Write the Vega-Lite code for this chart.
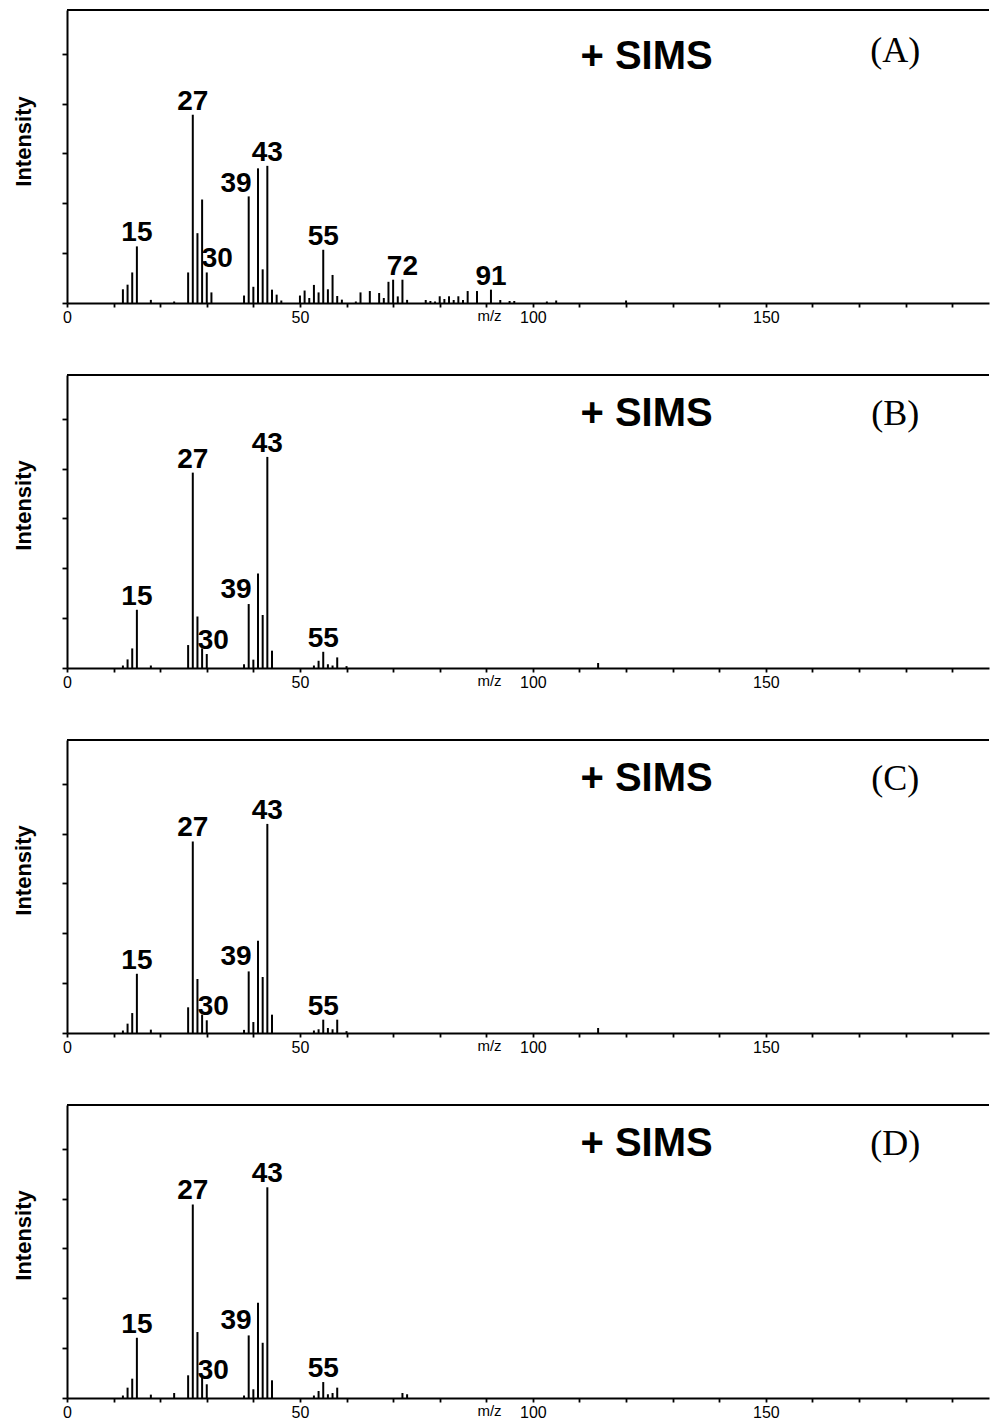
{
  "$schema": "https://vega.github.io/schema/vega-lite/v6.json",
  "autosize": {"type": "pad"},
  "padding": {"left": 12, "top": 9, "right": 0, "bottom": 2},
  "background": "white",
  "config": {
    "view": {"stroke": null},
    "axis": {"grid": false, "domainColor": "black", "domainWidth": 2, "tickColor": "black", "tickWidth": 1.8, "tickRound": true, "labelColor": "black", "titleColor": "black", "labelFont": "Liberation Sans", "titleFont": "Liberation Sans"}
  },
  "datasets": {
    "A": [
      {"mz":12,"i":1.1},{"mz":13,"i":1.47},{"mz":14,"i":2.45},{"mz":15,"i":4.54,"lab":"15"},{"mz":18,"i":0.25},{"mz":23,"i":0.12},
      {"mz":26,"i":2.45},{"mz":27,"i":15.1,"lab":"27"},{"mz":28,"i":5.6},{"mz":29,"i":8.3},{"mz":30,"i":2.45,"lab":"30"},{"mz":31,"i":0.85},
      {"mz":38,"i":0.6},{"mz":39,"i":8.55,"lab":"39"},{"mz":40,"i":1.3},{"mz":41,"i":10.8},{"mz":42,"i":2.7},{"mz":43,"i":11.0,"lab":"43"},{"mz":44,"i":1.07},{"mz":45,"i":0.67},{"mz":46,"i":0.2},
      {"mz":50,"i":0.6},{"mz":51,"i":1.0},{"mz":52,"i":0.4},{"mz":53,"i":1.45},{"mz":54,"i":0.85},{"mz":55,"i":4.27,"lab":"55"},{"mz":56,"i":1.1},{"mz":57,"i":2.25},{"mz":58,"i":0.56},{"mz":59,"i":0.27},
      {"mz":62,"i":0.12},{"mz":63,"i":0.85},{"mz":65,"i":0.96},{"mz":67,"i":0.8},{"mz":68,"i":0.4},{"mz":69,"i":1.7},{"mz":70,"i":1.87},{"mz":71,"i":0.53},{"mz":72,"i":1.87,"lab":"72"},{"mz":73,"i":0.25},
      {"mz":77,"i":0.24},{"mz":78,"i":0.16},{"mz":79,"i":0.12},{"mz":80,"i":0.54},{"mz":81,"i":0.32},{"mz":82,"i":0.54},{"mz":83,"i":0.24},{"mz":84,"i":0.54},{"mz":85,"i":0.24},{"mz":86,"i":0.96},{"mz":88,"i":0.96},{"mz":91,"i":1.07,"lab":"91"},{"mz":93,"i":0.24},{"mz":95,"i":0.16},{"mz":96,"i":0.16},{"mz":103,"i":0.12},{"mz":105,"i":0.2},{"mz":120,"i":0.2}
    ],
    "B": [
      {"mz":12,"i":0.2},{"mz":13,"i":0.69},{"mz":14,"i":1.57},{"mz":15,"i":4.67,"lab":"15"},{"mz":18,"i":0.2},
      {"mz":26,"i":1.84},{"mz":27,"i":15.67,"lab":"27"},{"mz":28,"i":4.13},{"mz":29,"i":1.57},{"mz":30,"i":1.12,"lab":"30"},
      {"mz":38,"i":0.3},{"mz":39,"i":5.13,"lab":"39"},{"mz":40,"i":0.67},{"mz":41,"i":7.58},{"mz":42,"i":4.25},{"mz":43,"i":16.93,"lab":"43"},{"mz":44,"i":1.39},
      {"mz":53,"i":0.2},{"mz":54,"i":0.58},{"mz":55,"i":1.3,"lab":"55"},{"mz":56,"i":0.3},{"mz":57,"i":0.2},{"mz":58,"i":0.85},{"mz":60,"i":0.15},{"mz":114,"i":0.4}
    ],
    "C": [
      {"mz":12,"i":0.2},{"mz":13,"i":0.75},{"mz":14,"i":1.6},{"mz":15,"i":4.75,"lab":"15"},{"mz":18,"i":0.27},
      {"mz":26,"i":2.06},{"mz":27,"i":15.36,"lab":"27"},{"mz":28,"i":4.33},{"mz":29,"i":1.47},{"mz":30,"i":1.02,"lab":"30"},
      {"mz":38,"i":0.25},{"mz":39,"i":4.94,"lab":"39"},{"mz":40,"i":0.88},{"mz":41,"i":7.4},{"mz":42,"i":4.49},{"mz":43,"i":16.77,"lab":"43"},{"mz":44,"i":1.47},
      {"mz":53,"i":0.2},{"mz":54,"i":0.3},{"mz":55,"i":1.07,"lab":"55"},{"mz":56,"i":0.4},{"mz":57,"i":0.3},{"mz":58,"i":1.07},{"mz":60,"i":0.15},{"mz":114,"i":0.4}
    ],
    "D": [
      {"mz":12,"i":0.2},{"mz":13,"i":0.83},{"mz":14,"i":1.55},{"mz":15,"i":4.83,"lab":"15"},{"mz":18,"i":0.27},{"mz":23,"i":0.4},
      {"mz":26,"i":1.82},{"mz":27,"i":15.52,"lab":"27"},{"mz":28,"i":5.29},{"mz":29,"i":1.63},{"mz":30,"i":1.1,"lab":"30"},
      {"mz":38,"i":0.2},{"mz":39,"i":5.02,"lab":"39"},{"mz":40,"i":0.7},{"mz":41,"i":7.64},{"mz":42,"i":4.43},{"mz":43,"i":16.9,"lab":"43"},{"mz":44,"i":1.42},
      {"mz":53,"i":0.2},{"mz":54,"i":0.56},{"mz":55,"i":1.28,"lab":"55"},{"mz":56,"i":0.3},{"mz":57,"i":0.4},{"mz":58,"i":0.83},{"mz":72,"i":0.4},{"mz":73,"i":0.3}
    ]
  },
  "spacing": 72,
  "bounds": "flush",
  "vconcat": [
    {
      "width": 922, "height": 293,
      "data": {"name": "A"},
      "layer": [
        {"mark": {"type": "rule", "color": "black", "strokeWidth": 1.5}, "encoding": {"y": {"datum": 23.5, "type": "quantitative"}}},
        {"mark": {"type": "rule", "color": "black", "strokeWidth": 2},
         "encoding": {
           "x": {"field": "mz", "type": "quantitative", "scale": {"domain": [0, 197.9], "nice": false, "zero": false},
                 "axis": {"values": [0,10,20,30,40,50,60,70,80,90,100,110,120,130,140,150,160,170,180,190], "labelExpr": "datum.value % 50 === 0 ? datum.label : ''", "labelFlush": false, "labelFontSize": 16, "tickSize": 4, "labelPadding": 2, "title": "m/z", "titleX": 422, "titleY": 17, "titleBaseline": "alphabetic", "titleAlign": "center", "titleFontWeight": "normal", "titleFontSize": 15}},
           "y": {"field": "i", "type": "quantitative", "scale": {"domain": [0, 23.5], "nice": false},
                 "axis": {"values": [0,1,2,3,4,5,6,7,8,9,10,11,12,13,14,15,16,17,18,19,20,21,22,23], "labels": false, "tickSize": 5, "title": "Intensity", "titleX": -43.5, "titleY": 131, "titleAngle": 270, "titleAlign": "center", "titleBaseline": "middle", "titleFontSize": 22, "titleFontWeight": "bold"}},
           "y2": {"datum": 0}
         }},
        {"transform": [{"filter": "datum.lab && datum.lab !== '30' && datum.lab !== '39'"}],
         "mark": {"type": "text", "font": "Liberation Sans", "fontWeight": "bold", "fontSize": 28, "baseline": "alphabetic", "align": "center", "dy": -5, "color": "black"},
         "encoding": {"x": {"field": "mz", "type": "quantitative"}, "y": {"field": "i", "type": "quantitative"}, "text": {"field": "lab"}}},
        {"transform": [{"filter": "datum.lab === '30'"}],
         "mark": {"type": "text", "font": "Liberation Sans", "fontWeight": "bold", "fontSize": 28, "baseline": "alphabetic", "align": "left", "dx": -5, "dy": -5, "color": "black"},
         "encoding": {"x": {"field": "mz", "type": "quantitative"}, "y": {"field": "i", "type": "quantitative"}, "text": {"field": "lab"}}},
        {"transform": [{"filter": "datum.lab === '39'"}],
         "mark": {"type": "text", "font": "Liberation Sans", "fontWeight": "bold", "fontSize": 28, "baseline": "alphabetic", "align": "right", "dx": 3, "dy": -4, "color": "black"},
         "encoding": {"x": {"field": "mz", "type": "quantitative"}, "y": {"field": "i", "type": "quantitative"}, "text": {"field": "lab"}}},
        {"data": {"values": [{"t": "+ SIMS"}]},
         "mark": {"type": "text", "font": "Liberation Sans", "fontWeight": "bold", "fontSize": 40, "baseline": "alphabetic", "align": "center", "color": "black"},
         "encoding": {"x": {"datum": 124.4, "type": "quantitative"}, "y": {"datum": 18.8, "type": "quantitative"}, "text": {"field": "t"}}},
        {"data": {"values": [{"t": "(A)"}]},
         "mark": {"type": "text", "font": "Liberation Serif", "fontSize": 36, "baseline": "alphabetic", "align": "center", "color": "black"},
         "encoding": {"x": {"datum": 177.8, "type": "quantitative"}, "y": {"datum": 19.3, "type": "quantitative"}, "text": {"field": "t"}}}
      ]
    },
    {
      "width": 922, "height": 293,
      "data": {"name": "B"},
      "layer": [
        {"mark": {"type": "rule", "color": "black", "strokeWidth": 1.5}, "encoding": {"y": {"datum": 23.5, "type": "quantitative"}}},
        {"mark": {"type": "rule", "color": "black", "strokeWidth": 2},
         "encoding": {
           "x": {"field": "mz", "type": "quantitative", "scale": {"domain": [0, 197.9], "nice": false, "zero": false},
                 "axis": {"values": [0,10,20,30,40,50,60,70,80,90,100,110,120,130,140,150,160,170,180,190], "labelExpr": "datum.value % 50 === 0 ? datum.label : ''", "labelFlush": false, "labelFontSize": 16, "tickSize": 4, "labelPadding": 2, "title": "m/z", "titleX": 422, "titleY": 17, "titleBaseline": "alphabetic", "titleAlign": "center", "titleFontWeight": "normal", "titleFontSize": 15}},
           "y": {"field": "i", "type": "quantitative", "scale": {"domain": [0, 23.5], "nice": false},
                 "axis": {"values": [0,1,2,3,4,5,6,7,8,9,10,11,12,13,14,15,16,17,18,19,20,21,22,23], "labels": false, "tickSize": 5, "title": "Intensity", "titleX": -43.5, "titleY": 130, "titleAngle": 270, "titleAlign": "center", "titleBaseline": "middle", "titleFontSize": 22, "titleFontWeight": "bold"}},
           "y2": {"datum": 0}
         }},
        {"transform": [{"filter": "datum.lab && datum.lab !== '30' && datum.lab !== '39'"}],
         "mark": {"type": "text", "font": "Liberation Sans", "fontWeight": "bold", "fontSize": 28, "baseline": "alphabetic", "align": "center", "dy": -5, "color": "black"},
         "encoding": {"x": {"field": "mz", "type": "quantitative"}, "y": {"field": "i", "type": "quantitative"}, "text": {"field": "lab"}}},
        {"transform": [{"filter": "datum.lab === '30'"}],
         "mark": {"type": "text", "font": "Liberation Sans", "fontWeight": "bold", "fontSize": 28, "baseline": "alphabetic", "align": "left", "dx": -9, "dy": -5, "color": "black"},
         "encoding": {"x": {"field": "mz", "type": "quantitative"}, "y": {"field": "i", "type": "quantitative"}, "text": {"field": "lab"}}},
        {"transform": [{"filter": "datum.lab === '39'"}],
         "mark": {"type": "text", "font": "Liberation Sans", "fontWeight": "bold", "fontSize": 28, "baseline": "alphabetic", "align": "right", "dx": 3, "dy": -6, "color": "black"},
         "encoding": {"x": {"field": "mz", "type": "quantitative"}, "y": {"field": "i", "type": "quantitative"}, "text": {"field": "lab"}}},
        {"data": {"values": [{"t": "+ SIMS"}]},
         "mark": {"type": "text", "font": "Liberation Sans", "fontWeight": "bold", "fontSize": 40, "baseline": "alphabetic", "align": "center", "color": "black"},
         "encoding": {"x": {"datum": 124.4, "type": "quantitative"}, "y": {"datum": 19.4, "type": "quantitative"}, "text": {"field": "t"}}},
        {"data": {"values": [{"t": "(B)"}]},
         "mark": {"type": "text", "font": "Liberation Serif", "fontSize": 36, "baseline": "alphabetic", "align": "center", "color": "black"},
         "encoding": {"x": {"datum": 177.8, "type": "quantitative"}, "y": {"datum": 19.5, "type": "quantitative"}, "text": {"field": "t"}}}
      ]
    },
    {
      "width": 922, "height": 293,
      "data": {"name": "C"},
      "layer": [
        {"mark": {"type": "rule", "color": "black", "strokeWidth": 1.5}, "encoding": {"y": {"datum": 23.5, "type": "quantitative"}}},
        {"mark": {"type": "rule", "color": "black", "strokeWidth": 2},
         "encoding": {
           "x": {"field": "mz", "type": "quantitative", "scale": {"domain": [0, 197.9], "nice": false, "zero": false},
                 "axis": {"values": [0,10,20,30,40,50,60,70,80,90,100,110,120,130,140,150,160,170,180,190], "labelExpr": "datum.value % 50 === 0 ? datum.label : ''", "labelFlush": false, "labelFontSize": 16, "tickSize": 4, "labelPadding": 2, "title": "m/z", "titleX": 422, "titleY": 17, "titleBaseline": "alphabetic", "titleAlign": "center", "titleFontWeight": "normal", "titleFontSize": 15}},
           "y": {"field": "i", "type": "quantitative", "scale": {"domain": [0, 23.5], "nice": false},
                 "axis": {"values": [0,1,2,3,4,5,6,7,8,9,10,11,12,13,14,15,16,17,18,19,20,21,22,23], "labels": false, "tickSize": 5, "title": "Intensity", "titleX": -43.5, "titleY": 130, "titleAngle": 270, "titleAlign": "center", "titleBaseline": "middle", "titleFontSize": 22, "titleFontWeight": "bold"}},
           "y2": {"datum": 0}
         }},
        {"transform": [{"filter": "datum.lab && datum.lab !== '30' && datum.lab !== '39'"}],
         "mark": {"type": "text", "font": "Liberation Sans", "fontWeight": "bold", "fontSize": 28, "baseline": "alphabetic", "align": "center", "dy": -5, "color": "black"},
         "encoding": {"x": {"field": "mz", "type": "quantitative"}, "y": {"field": "i", "type": "quantitative"}, "text": {"field": "lab"}}},
        {"transform": [{"filter": "datum.lab === '30'"}],
         "mark": {"type": "text", "font": "Liberation Sans", "fontWeight": "bold", "fontSize": 28, "baseline": "alphabetic", "align": "left", "dx": -9, "dy": -5, "color": "black"},
         "encoding": {"x": {"field": "mz", "type": "quantitative"}, "y": {"field": "i", "type": "quantitative"}, "text": {"field": "lab"}}},
        {"transform": [{"filter": "datum.lab === '39'"}],
         "mark": {"type": "text", "font": "Liberation Sans", "fontWeight": "bold", "fontSize": 28, "baseline": "alphabetic", "align": "right", "dx": 3, "dy": -6, "color": "black"},
         "encoding": {"x": {"field": "mz", "type": "quantitative"}, "y": {"field": "i", "type": "quantitative"}, "text": {"field": "lab"}}},
        {"data": {"values": [{"t": "+ SIMS"}]},
         "mark": {"type": "text", "font": "Liberation Sans", "fontWeight": "bold", "fontSize": 40, "baseline": "alphabetic", "align": "center", "color": "black"},
         "encoding": {"x": {"datum": 124.4, "type": "quantitative"}, "y": {"datum": 19.4, "type": "quantitative"}, "text": {"field": "t"}}},
        {"data": {"values": [{"t": "(C)"}]},
         "mark": {"type": "text", "font": "Liberation Serif", "fontSize": 36, "baseline": "alphabetic", "align": "center", "color": "black"},
         "encoding": {"x": {"datum": 177.8, "type": "quantitative"}, "y": {"datum": 19.5, "type": "quantitative"}, "text": {"field": "t"}}}
      ]
    },
    {
      "width": 922, "height": 293,
      "data": {"name": "D"},
      "layer": [
        {"mark": {"type": "rule", "color": "black", "strokeWidth": 1.5}, "encoding": {"y": {"datum": 23.5, "type": "quantitative"}}},
        {"mark": {"type": "rule", "color": "black", "strokeWidth": 2},
         "encoding": {
           "x": {"field": "mz", "type": "quantitative", "scale": {"domain": [0, 197.9], "nice": false, "zero": false},
                 "axis": {"values": [0,10,20,30,40,50,60,70,80,90,100,110,120,130,140,150,160,170,180,190], "labelExpr": "datum.value % 50 === 0 ? datum.label : ''", "labelFlush": false, "labelFontSize": 16, "tickSize": 4, "labelPadding": 2, "title": "m/z", "titleX": 422, "titleY": 17, "titleBaseline": "alphabetic", "titleAlign": "center", "titleFontWeight": "normal", "titleFontSize": 15}},
           "y": {"field": "i", "type": "quantitative", "scale": {"domain": [0, 23.5], "nice": false},
                 "axis": {"values": [0,1,2,3,4,5,6,7,8,9,10,11,12,13,14,15,16,17,18,19,20,21,22,23], "labels": false, "tickSize": 5, "title": "Intensity", "titleX": -43.5, "titleY": 130, "titleAngle": 270, "titleAlign": "center", "titleBaseline": "middle", "titleFontSize": 22, "titleFontWeight": "bold"}},
           "y2": {"datum": 0}
         }},
        {"transform": [{"filter": "datum.lab && datum.lab !== '30' && datum.lab !== '39'"}],
         "mark": {"type": "text", "font": "Liberation Sans", "fontWeight": "bold", "fontSize": 28, "baseline": "alphabetic", "align": "center", "dy": -5, "color": "black"},
         "encoding": {"x": {"field": "mz", "type": "quantitative"}, "y": {"field": "i", "type": "quantitative"}, "text": {"field": "lab"}}},
        {"transform": [{"filter": "datum.lab === '30'"}],
         "mark": {"type": "text", "font": "Liberation Sans", "fontWeight": "bold", "fontSize": 28, "baseline": "alphabetic", "align": "left", "dx": -9, "dy": -5, "color": "black"},
         "encoding": {"x": {"field": "mz", "type": "quantitative"}, "y": {"field": "i", "type": "quantitative"}, "text": {"field": "lab"}}},
        {"transform": [{"filter": "datum.lab === '39'"}],
         "mark": {"type": "text", "font": "Liberation Sans", "fontWeight": "bold", "fontSize": 28, "baseline": "alphabetic", "align": "right", "dx": 3, "dy": -6, "color": "black"},
         "encoding": {"x": {"field": "mz", "type": "quantitative"}, "y": {"field": "i", "type": "quantitative"}, "text": {"field": "lab"}}},
        {"data": {"values": [{"t": "+ SIMS"}]},
         "mark": {"type": "text", "font": "Liberation Sans", "fontWeight": "bold", "fontSize": 40, "baseline": "alphabetic", "align": "center", "color": "black"},
         "encoding": {"x": {"datum": 124.4, "type": "quantitative"}, "y": {"datum": 19.4, "type": "quantitative"}, "text": {"field": "t"}}},
        {"data": {"values": [{"t": "(D)"}]},
         "mark": {"type": "text", "font": "Liberation Serif", "fontSize": 36, "baseline": "alphabetic", "align": "center", "color": "black"},
         "encoding": {"x": {"datum": 177.8, "type": "quantitative"}, "y": {"datum": 19.5, "type": "quantitative"}, "text": {"field": "t"}}}
      ]
    }
  ]
}
